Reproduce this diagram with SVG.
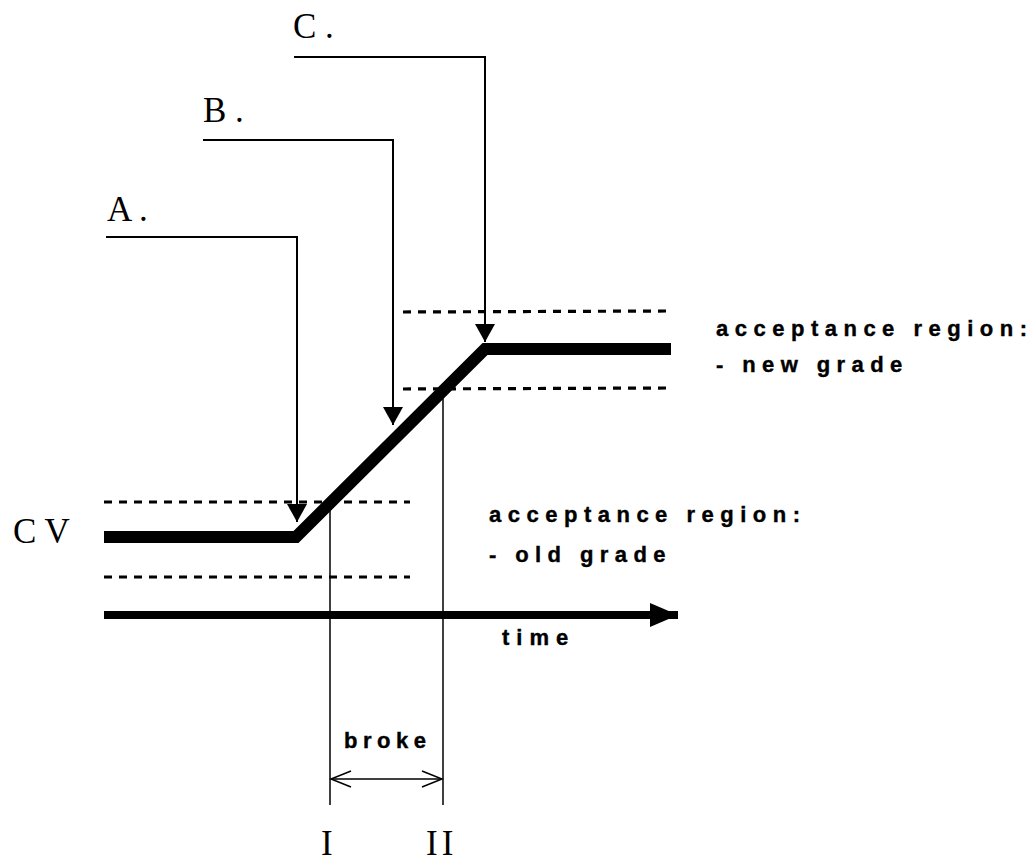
<svg xmlns="http://www.w3.org/2000/svg" width="1035" height="862" viewBox="0 0 1035 862">
<style>
.serif{font-family:"Liberation Serif","Times New Roman",serif;font-size:35px;fill:#000}
.lbl{font-family:"Liberation Sans",Arial,sans-serif;font-size:22px;font-weight:bold;fill:#000;stroke:#000;stroke-width:0.4}
.thin{stroke:#000;stroke-width:2;fill:none}
.vline{stroke:#000;stroke-width:1.5;fill:none}
.dash{stroke:#000;stroke-width:3.2;stroke-dasharray:8 7;fill:none}
</style>
<defs>
<marker id="tri" markerUnits="userSpaceOnUse" markerWidth="20" markerHeight="20" viewBox="0 0 20 20" refX="18" refY="10" orient="auto">
<path d="M0,0 L18,10 L0,20 Z" fill="#000"/>
</marker>
<marker id="open" markerUnits="userSpaceOnUse" markerWidth="24" markerHeight="20" viewBox="0 0 24 20" refX="21" refY="10" orient="auto-start-reverse">
<path d="M1,2 L21,10 L1,18" fill="none" stroke="#000" stroke-width="1.5"/>
</marker>
<marker id="big" markerUnits="userSpaceOnUse" markerWidth="30" markerHeight="28" viewBox="0 0 30 28" refX="28" refY="14" orient="auto">
<path d="M0,2 L28,14 L0,26 Z" fill="#000"/>
</marker>
</defs>
<g id="bands">
<line class="dash" x1="104" y1="502" x2="410" y2="502"/>
<line class="dash" x1="104" y1="577" x2="410" y2="577"/>
<line class="dash" x1="403" y1="312" x2="667" y2="311"/>
<line class="dash" x1="403" y1="389" x2="667" y2="388"/>
</g>
<g id="cv-curve">
<polyline points="104,537 296,537 485,349 671,349" fill="none" stroke="#000" stroke-width="12" stroke-linejoin="miter"/>
</g>
<g id="time-axis">
<line x1="104" y1="615" x2="678" y2="615" stroke="#000" stroke-width="8" marker-end="url(#big)"/>
</g>
<g id="connectors">
<polyline class="thin" points="106,237 297,237 297,522" marker-end="url(#tri)"/>
<polyline class="thin" points="203,140 393,140 393,425" marker-end="url(#tri)"/>
<polyline class="thin" points="294,57 485,57 485,342" marker-end="url(#tri)"/>
<line class="vline" x1="330" y1="502" x2="330" y2="805"/>
<line class="vline" x1="443" y1="390" x2="443" y2="805"/>
<line x1="331" y1="779" x2="442" y2="779" stroke="#000" stroke-width="1.5" marker-start="url(#open)" marker-end="url(#open)"/>
</g>
<g id="label-A"><text class="serif" x="107" y="221">A .</text></g>
<g id="label-B"><text class="serif" x="203" y="122">B .</text></g>
<g id="label-C"><text class="serif" x="293" y="38">C .</text></g>
<g id="label-CV"><text class="serif" x="13" y="543">C V</text></g>
<g id="label-I"><text class="serif" x="321" y="855">I</text></g>
<g id="label-II"><text class="serif" x="426" y="855" letter-spacing="4">II</text></g>
<g id="label-new"><text class="lbl" x="716" y="336" letter-spacing="6.5">acceptance region:</text><text class="lbl" x="716" y="372" letter-spacing="6.4">- new grade</text></g>
<g id="label-old"><text class="lbl" x="489" y="522" letter-spacing="6.5">acceptance region:</text><text class="lbl" x="489" y="562" letter-spacing="6.4">- old grade</text></g>
<g id="label-time"><text class="lbl" x="502" y="645" letter-spacing="7">time</text></g>
<g id="label-broke"><text class="lbl" x="344" y="748" letter-spacing="5.5">broke</text></g>
</svg>
